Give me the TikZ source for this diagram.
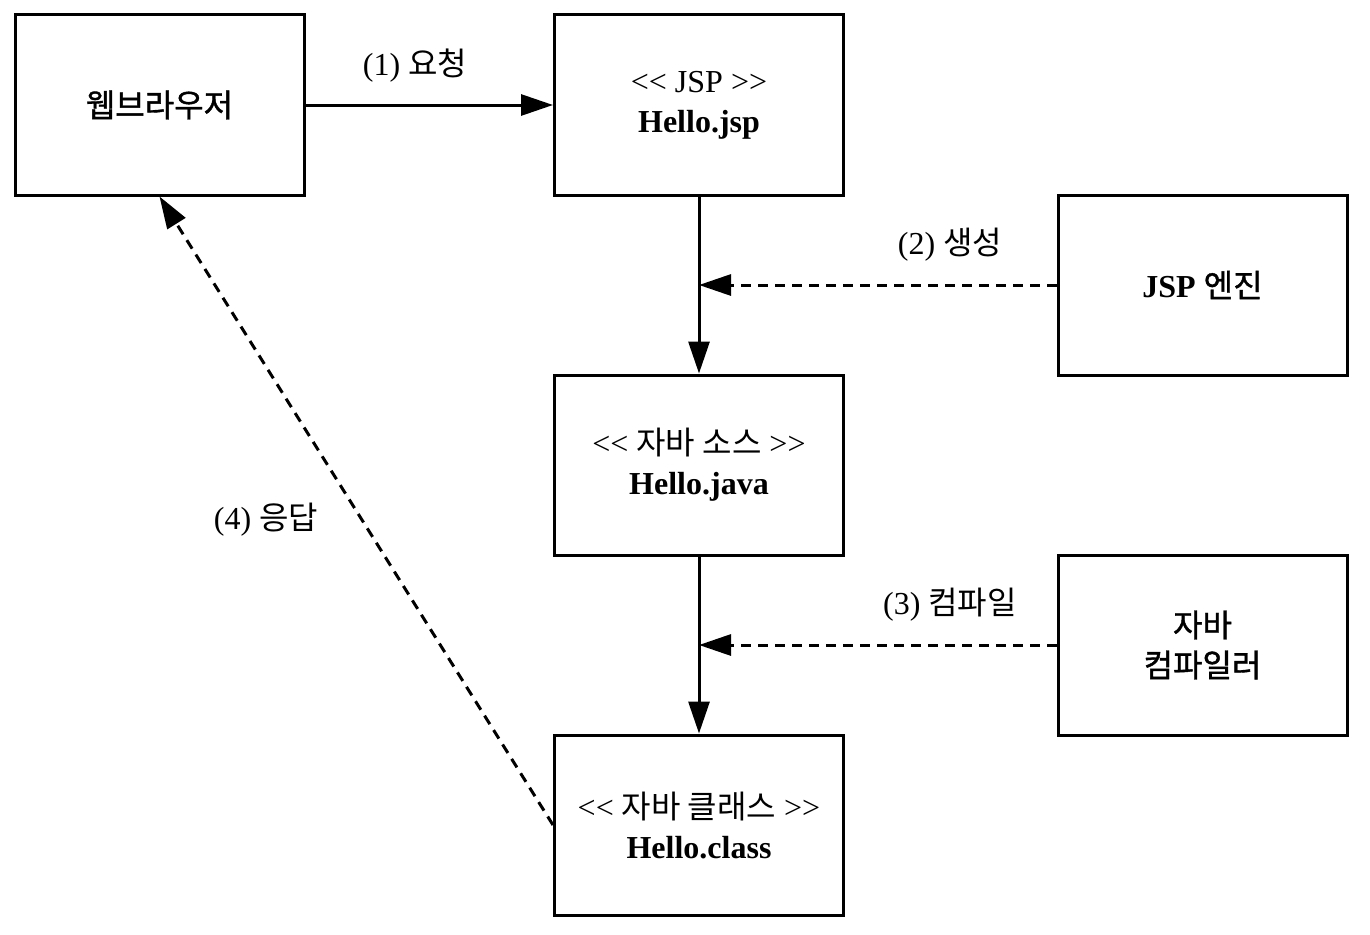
\documentclass[tikz,border=0pt]{standalone}
\usepackage{fontspec}
\setmainfont{Liberation Serif}
\newfontfamily\kr{Noto Sans CJK KR}
\newfontfamily\krb[FakeBold=1.2]{Noto Sans CJK KR}
\usetikzlibrary{arrows.meta}
\newcommand{\kor}[1]{{\kr #1}}
\newcommand{\korb}[1]{{\krb #1}}
\begin{document}
\begin{tikzpicture}[x=1pt,y=-1pt,
  box/.style={draw, line width=3pt, minimum width=289pt, minimum height=180pt, inner sep=0pt, align=center, font=\fontsize{32}{40}\selectfont},
  lbl/.style={font=\fontsize{32}{38}\selectfont, inner sep=0pt},
  conn/.style={line width=3pt, -{Triangle[length=32pt,width=21pt]}},
  dconn/.style={conn, dash pattern=on 10pt off 7pt}]
\useasboundingbox (0,0) rectangle (1370,934);
\node[box] (browser) at (159.5,105) {\korb{웹브라우저}};
\node[box] (jsp) at (699,105) {<{}< JSP >{}>\\\textbf{Hello.jsp}};
\node[box] (engine) at (1202.5,285) {\textbf{JSP} \korb{엔진}};
\node[box] (java) at (699,465) {<{}< \kor{자바 소스} >{}>\\\textbf{Hello.java}};
\node[box] (compiler) at (1202.5,645) {\korb{자바}\\\korb{컴파일러}};
\node[box] (class) at (699,825) {<{}< \kor{자바 클래스} >{}>\\\textbf{Hello.class}};
\coordinate (m2) at (699,285);
\coordinate (m3) at (699,645);
\draw[conn] (browser.east) -- (jsp.west);
\draw[conn] (jsp.south) -- (java.north);
\draw[conn] (java.south) -- (class.north);
\draw[dconn] (engine.west) -- (m2);
\draw[dconn] (compiler.west) -- (m3);
\draw[dconn] (class.west) -- (browser.south);
\node[lbl] (l1) at (415,66) {(1) \kor{요청}};
\node[lbl] (l2) at (950,245) {(2) \kor{생성}};
\node[lbl] (l3) at (950,605) {(3) \kor{컴파일}};
\node[lbl] (l4) at (266,520) {(4) \kor{응답}};
\end{tikzpicture}
\end{document}
